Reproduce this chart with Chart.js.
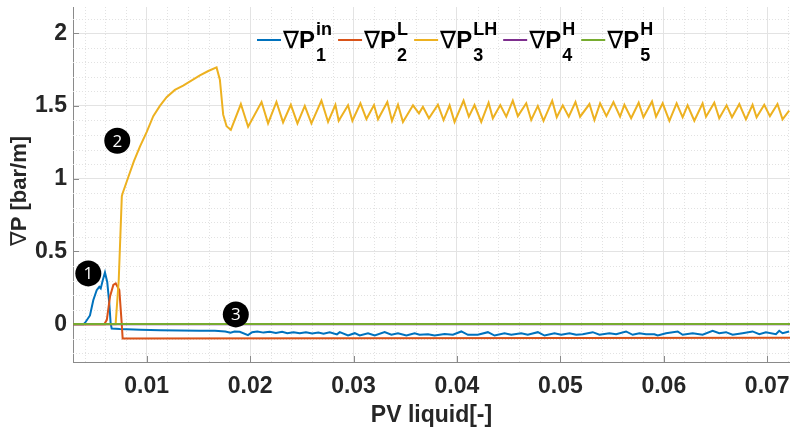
<!DOCTYPE html>
<html>
<head>
<meta charset="utf-8">
<script src="https://cdn.jsdelivr.net/npm/chart.js@4"></script>
<style>
  html, body { margin: 0; padding: 0; background: #fff; }
  #wrap { width: 790px; height: 432px; }
</style>
</head>
<body>
<div id="wrap"><canvas id="chart"></canvas></div>
<script>
const xTicks = [0.01, 0.02, 0.03, 0.04, 0.05, 0.06, 0.07];
const yTicks = [0, 0.5, 1, 1.5, 2];

// ∇P1 in (blue)
const p1X = [0.0029, 0.0039, 0.00405, 0.00452, 0.00484, 0.00517, 0.00542, 0.00556, 0.00575, 0.00597, 0.00619, 0.00639, 0.00652, 0.00662,
  0.0074, 0.0094, 0.0113, 0.0132, 0.0151, 0.0166, 0.0176, 0.0181, 0.0185, 0.019, 0.0198, 0.0202, 0.0207, 0.0213, 0.0219, 0.0225,
  0.0231, 0.0236, 0.0242, 0.0248, 0.0254, 0.026, 0.0266, 0.0271, 0.0277, 0.0284,
  0.02867, 0.02947, 0.03012, 0.0306, 0.0314, 0.03205, 0.03301, 0.03366, 0.0343, 0.03511, 0.03591, 0.03639, 0.0372, 0.03784,
  0.03881, 0.03961, 0.04042, 0.04106, 0.04202, 0.04299, 0.04364, 0.0446, 0.04525, 0.04621, 0.04685, 0.04782, 0.04847, 0.04943, 0.05008,
  0.05088, 0.05153, 0.05216, 0.05313, 0.05378, 0.05474, 0.05539, 0.05635, 0.05699, 0.05764, 0.05828, 0.05909, 0.05941, 0.06022,
  0.06134, 0.06182, 0.06279, 0.06375, 0.06472, 0.06536, 0.06601, 0.06665, 0.06761, 0.06858, 0.06923, 0.06987, 0.07084, 0.07116, 0.07148, 0.07212];
const p1Y = [0, 0, 0.01, 0.06, 0.165, 0.234, 0.257, 0.246, 0.30, 0.355, 0.29, 0.142, 0.005, -0.03,
  -0.034, -0.038, -0.042, -0.044, -0.046, -0.045, -0.05, -0.058, -0.05, -0.052, -0.075, -0.055, -0.05, -0.058, -0.052, -0.06,
  -0.053, -0.062, -0.055, -0.062, -0.055, -0.064, -0.058, -0.065, -0.055, -0.07,
  -0.055, -0.078, -0.062, -0.078, -0.062, -0.078, -0.055, -0.073, -0.062, -0.078, -0.062, -0.073, -0.069, -0.078,
  -0.067, -0.073, -0.05, -0.073, -0.073, -0.055, -0.078, -0.062, -0.073, -0.062, -0.073, -0.055, -0.078, -0.062, -0.073,
  -0.062, -0.073, -0.069, -0.055, -0.073, -0.062, -0.069, -0.05, -0.073, -0.062, -0.069, -0.069, -0.078, -0.062,
  -0.05, -0.073, -0.062, -0.073, -0.045, -0.062, -0.055, -0.073, -0.062, -0.05, -0.069, -0.055, -0.069, -0.045, -0.062, -0.05];

// ∇P2 L (orange)
const p2X = [0.0029, 0.0059, 0.00615, 0.00646, 0.00678, 0.00701, 0.00736, 0.00758, 0.00768, 0.03, 0.0722];
const p2Y = [0, 0, 0.03, 0.19, 0.27, 0.28, 0.234, 0.016, -0.098, -0.097, -0.094];

// ∇P3 LH (yellow)
const p3X = [0.0029, 0.0070, 0.0073, 0.0076, 0.00768, 0.00822, 0.00877, 0.00935, 0.01, 0.01064, 0.01128, 0.01193, 0.01273, 0.01353,
  0.01515, 0.01596, 0.01676, 0.01708, 0.0174, 0.01773, 0.01814,
  0.01911, 0.01981, 0.02111, 0.02174, 0.02255, 0.02319, 0.02394, 0.02458, 0.02529, 0.02593, 0.0269, 0.02754, 0.02825, 0.02857,
  0.02947, 0.02989, 0.03067, 0.03125, 0.03198, 0.03237, 0.03327, 0.03372, 0.0343, 0.03478, 0.03575, 0.03633, 0.03671, 0.03729,
  0.03816, 0.03871, 0.03929, 0.03977, 0.04064, 0.04115, 0.0417, 0.04235, 0.04306, 0.04347, 0.04419, 0.04477, 0.0454, 0.04589,
  0.0467, 0.04718, 0.04782, 0.04837, 0.04921, 0.04965, 0.05023, 0.05081, 0.05146, 0.05191, 0.05281, 0.05329, 0.05384, 0.05445,
  0.05513, 0.05577, 0.05619, 0.05684, 0.05757, 0.05803, 0.05886, 0.05925, 0.05989, 0.06054, 0.06124, 0.06182, 0.0623, 0.06295,
  0.06375, 0.06408, 0.06488, 0.06536, 0.06607, 0.06659, 0.0673, 0.06794, 0.06858, 0.06897, 0.06971, 0.07026, 0.07099, 0.07148, 0.07212];
const p3Y = [0, 0, 0.3, 0.88, 0.9, 1.01, 1.12, 1.22, 1.32, 1.43, 1.50, 1.56, 1.61, 1.64,
  1.71, 1.74, 1.765, 1.68, 1.44, 1.36, 1.335,
  1.513, 1.357, 1.527, 1.38, 1.527, 1.387, 1.508, 1.38, 1.50, 1.38, 1.536, 1.39, 1.508, 1.398,
  1.504, 1.398, 1.518, 1.41, 1.506, 1.408, 1.527, 1.398, 1.508, 1.39, 1.504, 1.449, 1.494, 1.415,
  1.508, 1.403, 1.504, 1.39, 1.536, 1.426, 1.506, 1.39, 1.522, 1.415, 1.506, 1.426, 1.536, 1.43,
  1.518, 1.403, 1.50, 1.398, 1.536, 1.422, 1.504, 1.426, 1.527, 1.426, 1.513, 1.403, 1.518, 1.43,
  1.527, 1.426, 1.508, 1.415, 1.522, 1.422, 1.531, 1.426, 1.518, 1.398, 1.518, 1.422, 1.504, 1.398,
  1.518, 1.426, 1.522, 1.415, 1.504, 1.422, 1.513, 1.408, 1.508, 1.422, 1.508, 1.43, 1.513, 1.408, 1.467];

// ∇P4 H (purple) and ∇P5 H (green)
const p4X = [0.0029, 0.0722];
const p4Y = [0, 0];
const p5X = [0.0029, 0.0722];
const p5Y = [0.002, 0.002];

const legendSup = ["in", "L", "LH", "H", "H"];
const legendSub = ["1", "2", "3", "4", "5"];
const colors = ["#0072BD", "#D95319", "#EDB120", "#7E2F8E", "#77AC30"];

// numbered markers
const markX = [0.00436, 0.00716, 0.01862];
const markY = [0.349, 1.261, 0.067];
const markLabel = ["1", "2", "3"];

const FONT = "'Liberation Sans', Arial, sans-serif";
const NABLA = "'DejaVu Sans', sans-serif";

function pts(xs, ys) {
  return xs.map((x, i) => ({ x: x, y: ys[i] }));
}

const series = [[p1X, p1Y], [p2X, p2Y], [p3X, p3Y], [p4X, p4Y], [p5X, p5Y]];
const datasets = series.map((s, i) => ({
  data: pts(s[0], s[1]),
  borderColor: colors[i],
  borderWidth: 2,
  pointRadius: 0,
  tension: 0,
  fill: false,
  order: 5 - i
}));

const extras = {
  id: "extras",
  beforeDatasetsDraw(chart) {
    const c = chart.ctx, a = chart.chartArea;
    const xs = chart.scales.x, ys = chart.scales.y;
    c.save();
    c.strokeStyle = "#e2e2e2";
    c.lineWidth = 1;
    c.setLineDash([1, 2]);
    for (let v = 0.004; v < 0.0722; v += 0.002) {
      if (Math.abs(v * 100 - Math.round(v * 100)) < 1e-6) continue;
      const px = Math.round(xs.getPixelForValue(v)) + 0.5;
      c.beginPath(); c.moveTo(px, a.top); c.lineTo(px, a.bottom); c.stroke();
    }
    for (let v = -0.2; v < 2.18; v += 0.1) {
      if (Math.abs(v * 2 - Math.round(v * 2)) < 1e-6) continue;
      const py = Math.round(ys.getPixelForValue(v)) + 0.5;
      c.beginPath(); c.moveTo(a.left, py); c.lineTo(a.right, py); c.stroke();
    }
    c.setLineDash([]);
    // inward tick marks
    c.strokeStyle = "#8a8a8a";
    xTicks.forEach(v => {
      const px = Math.round(xs.getPixelForValue(v)) + 0.5;
      c.beginPath(); c.moveTo(px, a.bottom); c.lineTo(px, a.bottom - 6); c.stroke();
    });
    yTicks.forEach(v => {
      const py = Math.round(ys.getPixelForValue(v)) + 0.5;
      c.beginPath(); c.moveTo(a.left, py); c.lineTo(a.left + 6, py); c.stroke();
    });
    c.restore();
  },
  afterDatasetsDraw(chart) {
    const c = chart.ctx;
    const xs = chart.scales.x, ys = chart.scales.y;
    c.save();
    // numbered markers
    markX.forEach((v, i) => {
      const px = xs.getPixelForValue(v), py = ys.getPixelForValue(markY[i]);
      c.fillStyle = "#000";
      c.beginPath(); c.arc(px, py, 13, 0, Math.PI * 2); c.fill();
      c.fillStyle = "#fff";
      c.font = "17px 'Open Sans', 'Liberation Sans', sans-serif";
      c.textAlign = "center";
      c.textBaseline = "middle";
      c.fillText(markLabel[i], px, py + 1);
    });
    // legend
    let x = 257;
    const ly = 40;
    c.textAlign = "left";
    c.textBaseline = "alphabetic";
    colors.forEach((col, i) => {
      c.strokeStyle = col;
      c.lineWidth = 2;
      c.beginPath(); c.moveTo(x, ly); c.lineTo(x + 24, ly); c.stroke();
      x += 26;
      c.fillStyle = "#000";
      c.font = "24px " + NABLA;
      c.fillText("\u2207", x, 48);
      x += c.measureText("\u2207").width;
      c.font = "bold 24px " + FONT;
      c.fillText("P", x, 48);
      x += c.measureText("P").width + 1;
      c.font = "bold 18px " + FONT;
      c.fillText(legendSup[i], x, 35);
      c.fillText(legendSub[i], x, 61);
      x += Math.max(c.measureText(legendSup[i]).width, c.measureText(legendSub[i]).width) + 6;
    });
    // y axis title
    c.translate(20, 191);
    c.rotate(-Math.PI / 2);
    c.fillStyle = "#262626";
    c.textBaseline = "middle";
    c.font = "22px " + NABLA;
    const w1 = c.measureText("\u2207").width;
    c.font = "bold 22px " + FONT;
    const rest = "P [bar/m]";
    const w2 = c.measureText(rest).width;
    let tx = -(w1 + w2) / 2;
    c.font = "22px " + NABLA;
    c.fillText("\u2207", tx, 0);
    c.font = "bold 22px " + FONT;
    c.fillText(rest, tx + w1, 0);
    c.restore();
  }
};

new Chart(document.getElementById("chart"), {
  type: "line",
  data: { datasets: datasets },
  options: {
    responsive: true,
    maintainAspectRatio: false,
    animation: false,
    layout: { padding: { left: 0, top: 7, right: 0, bottom: 0 } },
    plugins: { legend: { display: false }, tooltip: { enabled: false } },
    scales: {
      x: {
        type: "linear",
        min: 0.00288,
        max: 0.0722,
        afterBuildTicks: s => { s.ticks = xTicks.map(v => ({ value: v })); },
        afterFit: s => { s.height = 70; s.paddingLeft = 0; s.paddingRight = 0; },
        ticks: {
          padding: 11,
          maxRotation: 0,
          autoSkip: false,
          color: "#262626",
          font: { family: FONT, size: 23, weight: "bold" },
          callback: v => String(Math.round(v * 100) / 100)
        },
        grid: { color: "#e3e3e3", drawTicks: false },
        border: { color: "#8a8a8a", width: 1 },
        title: {
          display: true,
          text: "PV liquid[-]",
          color: "#262626",
          font: { family: FONT, size: 23, weight: "bold" },
          padding: { top: 0, bottom: 3 }
        }
      },
      y: {
        type: "linear",
        min: -0.26,
        max: 2.18,
        afterBuildTicks: s => { s.ticks = yTicks.map(v => ({ value: v })); },
        afterFit: s => { s.width = 73; s.paddingTop = 0; s.paddingBottom = 0; },
        ticks: {
          padding: 6,
          color: "#262626",
          font: { family: FONT, size: 23, weight: "bold" },
          callback: v => String(v)
        },
        grid: { color: "#e3e3e3", drawTicks: false },
        border: { color: "#8a8a8a", width: 1 }
      }
    }
  },
  plugins: [extras]
});
</script>
</body>
</html>
